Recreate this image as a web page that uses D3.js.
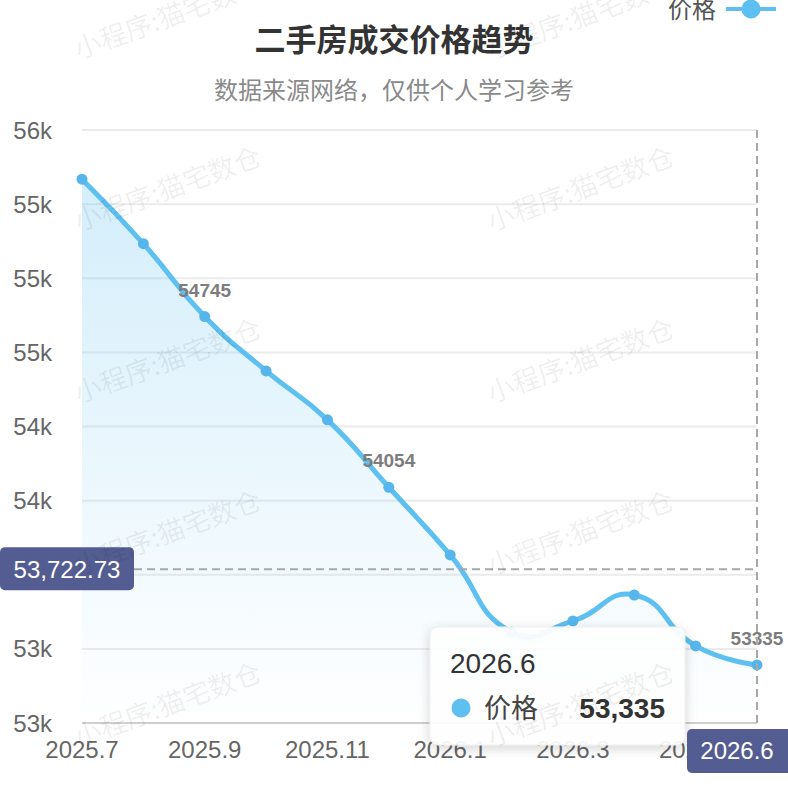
<!DOCTYPE html>
<html>
<head>
<meta charset="utf-8">
<script src="https://cdn.jsdelivr.net/npm/d3@7/dist/d3.min.js"></script>
<style>
  html, body { margin: 0; padding: 0; background: #fff; }
  svg { display: block; }
</style>
</head>
<body>
<svg id="chart" width="788" height="802"></svg>
<script>
// ---- data ----
const months = ['2025.7','2025.8','2025.9','2025.10','2025.11','2025.12','2026.1','2026.2','2026.3','2026.4','2026.5','2026.6'];
const prices = [55301, 55040, 54745, 54525, 54327, 54054, 53780, 53468, 53513, 53618, 53412, 53335];
const labeledIndex = [2, 5, 11];
const yTicks = [53100, 53400, 53700, 54000, 54300, 54600, 54900, 55200, 55500];
const xTickLabels = ['2025.7','2025.9','2025.11','2026.1','2026.3','2026.5'];
const titleText = '二手房成交价格趋势';
const subtitleText = '数据来源网络，仅供个人学习参考';
const seriesName = '价格';
const pointerValue = 53722.73;
const tooltipIndex = 11;
const watermarkText = '小程序:猫宅数仓';

// ---- setup ----
const W = 788, H = 802;
const grid = {left: 82, right: 757, top: 130, bottom: 723};
const LINE = '#5dc0f1';
const FONT = '"Liberation Sans", Arial, "Noto Sans CJK SC", sans-serif';
const CJK = '"Noto Sans CJK SC", "Liberation Sans", sans-serif';

const svg = d3.select('#chart');
const defs = svg.append('defs');

const x = d3.scalePoint().domain(months).range([grid.left, grid.right]);
const y = d3.scaleLinear().domain([yTicks[0], yTicks[yTicks.length-1]]).range([grid.bottom, grid.top]);
const fmtK = v => (v / 1000).toFixed(0) + 'k';

// gradient
const grad = defs.append('linearGradient').attr('id', 'areaGrad')
  .attr('gradientUnits', 'userSpaceOnUse')
  .attr('x1', 0).attr('x2', 0)
  .attr('y1', y(d3.max(prices))).attr('y2', grid.bottom);
grad.append('stop').attr('offset', 0).attr('stop-color', LINE).attr('stop-opacity', 0.27);
grad.append('stop').attr('offset', 1).attr('stop-color', LINE).attr('stop-opacity', 0.0);

const shadow = defs.append('filter').attr('id', 'tipShadow')
  .attr('x', '-20%').attr('y', '-20%').attr('width', '140%').attr('height', '150%');
shadow.append('feDropShadow').attr('dx', 0).attr('dy', 3).attr('stdDeviation', 6)
  .attr('flood-color', '#000').attr('flood-opacity', 0.18);

// title
svg.append('text').attr('x', W/2).attr('y', 51).attr('text-anchor', 'middle')
  .attr('font-family', CJK).attr('font-weight', 'bold').attr('font-size', 31)
  .attr('fill', '#333').text(titleText);
svg.append('text').attr('x', W/2).attr('y', 99).attr('text-anchor', 'middle')
  .attr('font-family', CJK).attr('font-size', 24)
  .attr('fill', '#8a8a8a').text(subtitleText);

// legend
const lg = svg.append('g');
lg.append('text').attr('x', 716).attr('y', 18).attr('text-anchor', 'end')
  .attr('font-family', CJK).attr('font-size', 24).attr('fill', '#555').text(seriesName);
lg.append('line').attr('x1', 726).attr('x2', 776).attr('y1', 9).attr('y2', 9)
  .attr('stroke', LINE).attr('stroke-width', 4);
lg.append('circle').attr('cx', 751).attr('cy', 9).attr('r', 9.5).attr('fill', LINE);

// grid lines
svg.append('g').selectAll('line').data(yTicks.slice(1)).join('line')
  .attr('x1', grid.left).attr('x2', grid.right)
  .attr('y1', d => y(d)).attr('y2', d => y(d))
  .attr('stroke', '#ebebeb').attr('stroke-width', 2);

// y labels
svg.append('g').selectAll('text').data(yTicks).join('text')
  .attr('x', 52).attr('y', d => y(d) + 8.5).attr('text-anchor', 'end')
  .attr('font-family', FONT).attr('font-size', 24).attr('fill', '#666')
  .text(fmtK);

// x axis line
svg.append('line').attr('x1', grid.left).attr('x2', grid.right)
  .attr('y1', grid.bottom).attr('y2', grid.bottom)
  .attr('stroke', '#cfcfcf').attr('stroke-width', 2);

// x labels
svg.append('g').selectAll('text').data(xTickLabels).join('text')
  .attr('x', d => x(d)).attr('y', 758).attr('text-anchor', 'middle')
  .attr('font-family', FONT).attr('font-size', 24).attr('fill', '#666')
  .text(d => d);

// ECharts-like smooth path
const pts = months.map((m, i) => [x(m), y(prices[i])]);
function smoothPath(p, points, smooth) {
  let cpx0, cpy0, prevX, prevY;
  points.forEach((pt, i) => {
    const [px, py] = pt;
    if (i === 0) { p.moveTo(px, py); cpx0 = px; cpy0 = py; }
    else {
      let ratio = 0.5, vx = 0, vy = 0, ncx, ncy;
      if (i === points.length - 1) { ncx = px; ncy = py; }
      else {
        const [nx, ny] = points[i+1];
        vx = nx - prevX; vy = ny - prevY;
        const l0 = Math.hypot(px - prevX, py - prevY);
        const l1 = Math.hypot(nx - px, ny - py);
        ratio = l1 / (l0 + l1);
        ncx = px + vx * smooth * ratio; ncy = py + vy * smooth * ratio;
      }
      const cpx1 = px - vx * smooth * (1 - ratio);
      const cpy1 = py - vy * smooth * (1 - ratio);
      p.bezierCurveTo(cpx0, cpy0, cpx1, cpy1, px, py);
      cpx0 = ncx; cpy0 = ncy;
    }
    prevX = px; prevY = py;
  });
  return p;
}
const lineP = smoothPath(d3.path(), pts, 0.5);
const areaP = smoothPath(d3.path(), pts, 0.5);
areaP.lineTo(pts[pts.length-1][0], grid.bottom);
areaP.lineTo(pts[0][0], grid.bottom);
areaP.closePath();

svg.append('path').attr('d', areaP.toString()).attr('fill', 'url(#areaGrad)');
svg.append('path').attr('d', lineP.toString()).attr('fill', 'none')
  .attr('stroke', LINE).attr('stroke-width', 5).attr('stroke-linejoin', 'round');

svg.append('g').selectAll('circle').data(prices).join('circle')
  .attr('cx', (d, i) => x(months[i])).attr('cy', d => y(d)).attr('r', 5.5)
  .attr('fill', '#56b6ec');

// data labels
svg.append('g').selectAll('text').data(labeledIndex).join('text')
  .attr('x', i => x(months[i])).attr('y', i => y(prices[i]) - 20)
  .attr('text-anchor', 'middle').attr('font-family', FONT).attr('font-weight', 'bold')
  .attr('font-size', 19).attr('fill', '#7d7d7d')
  .text(i => prices[i]);

// axis pointer lines
const tipX = x(months[tooltipIndex]);
svg.append('line').attr('x1', grid.left).attr('x2', grid.right)
  .attr('y1', y(pointerValue)).attr('y2', y(pointerValue))
  .attr('stroke', '#a8a8a8').attr('stroke-width', 2).attr('stroke-dasharray', '8,5');
svg.append('line').attr('x1', tipX).attr('x2', tipX)
  .attr('y1', grid.top).attr('y2', grid.bottom)
  .attr('stroke', '#a8a8a8').attr('stroke-width', 2).attr('stroke-dasharray', '8,5');

// tooltip
const tip = svg.append('g');
tip.append('rect').attr('x', 430).attr('y', 627).attr('width', 255).attr('height', 118)
  .attr('rx', 8).attr('fill', '#fff').attr('fill-opacity', 0.93)
  .attr('stroke', '#eee').attr('stroke-width', 1).attr('filter', 'url(#tipShadow)');
tip.append('text').attr('x', 450).attr('y', 673).attr('font-family', FONT)
  .attr('font-size', 28).attr('fill', '#333').text(months[tooltipIndex]);
tip.append('circle').attr('cx', 461).attr('cy', 708).attr('r', 9.5).attr('fill', LINE);
tip.append('text').attr('x', 484).attr('y', 718).attr('font-family', CJK)
  .attr('font-size', 27).attr('fill', '#444').text(seriesName);
tip.append('text').attr('x', 665).attr('y', 718).attr('text-anchor', 'end')
  .attr('font-family', FONT).attr('font-weight', 'bold')
  .attr('font-size', 28).attr('fill', '#333')
  .text(d3.format(',')(prices[tooltipIndex]));

// axis pointer labels
const PBG = '#545d92';
svg.append('rect').attr('x', 0).attr('y', y(pointerValue) - 22).attr('width', 134).attr('height', 43)
  .attr('rx', 5).attr('fill', PBG);
svg.append('text').attr('x', 67).attr('y', y(pointerValue) + 8.5).attr('text-anchor', 'middle')
  .attr('font-family', FONT).attr('font-size', 24).attr('fill', '#fff')
  .text(d3.format(',.2f')(pointerValue));
svg.append('rect').attr('x', 687).attr('y', 729).attr('width', 110).attr('height', 44)
  .attr('rx', 5).attr('fill', PBG);
svg.append('text').attr('x', 737).attr('y', 759).attr('text-anchor', 'middle')
  .attr('font-family', FONT).attr('font-size', 24).attr('fill', '#fff')
  .text(months[tooltipIndex]);

// watermark
const wm = svg.append('g').attr('pointer-events', 'none');
const wmCols = [167, 580];
const wmRows = [15, 187, 359, 531, 703];
wmRows.forEach(ry => wmCols.forEach(cx => {
  wm.append('text').attr('transform', `translate(${cx},${ry}) rotate(-20)`)
    .attr('text-anchor', 'middle').attr('dominant-baseline', 'central')
    .attr('font-family', CJK).attr('font-size', 27).attr('fill', '#000').attr('fill-opacity', 0.07)
    .text(watermarkText);
}));
</script>
</body>
</html>
